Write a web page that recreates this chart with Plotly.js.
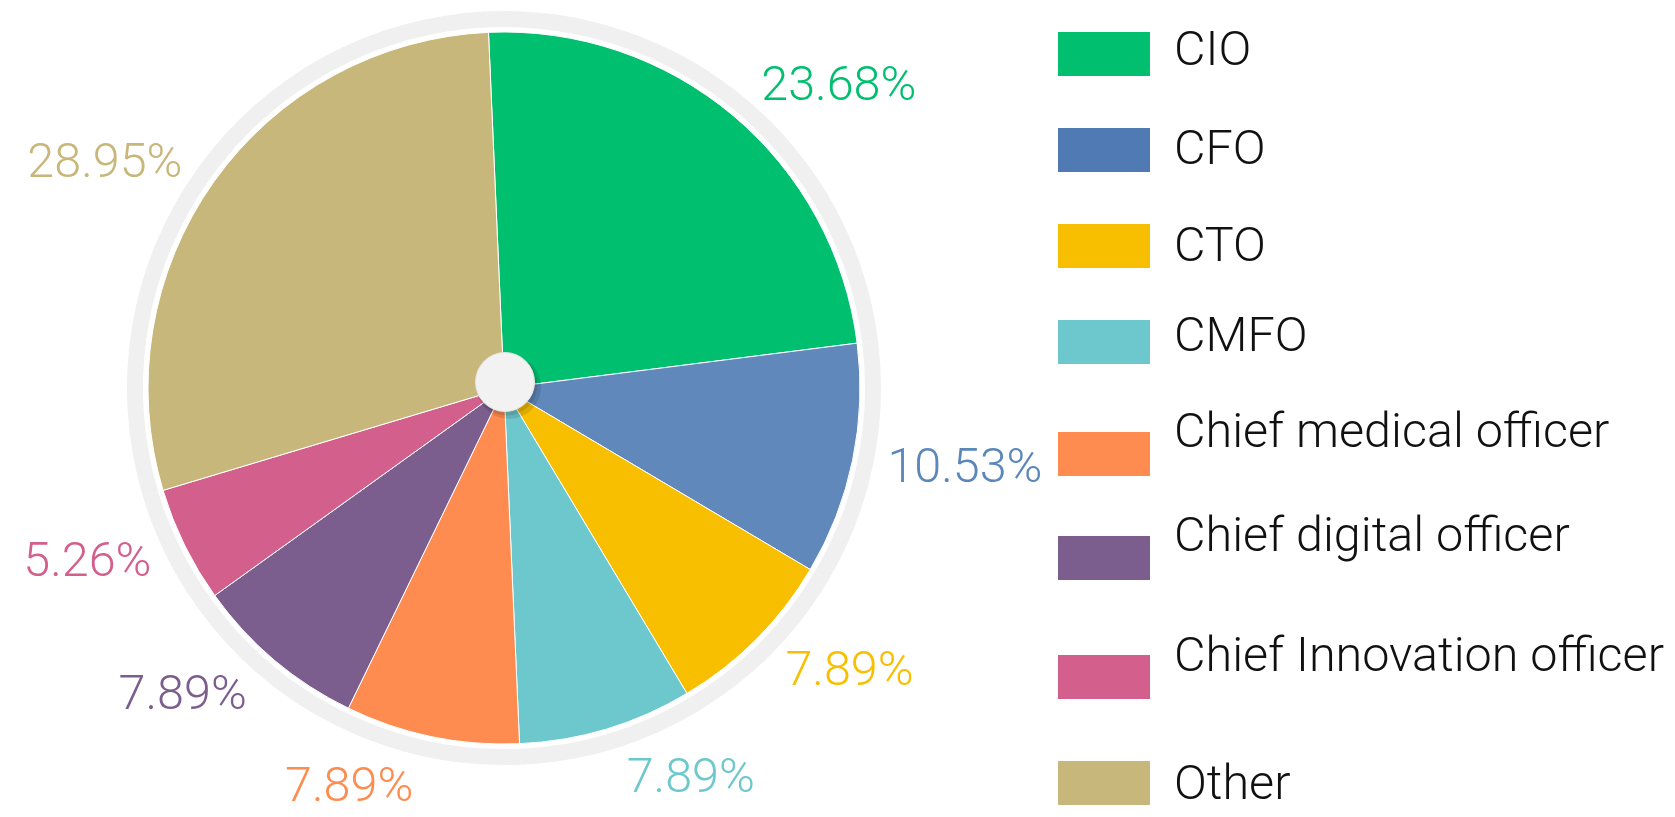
<!DOCTYPE html>
<html>
<head>
<meta charset="utf-8">
<script src="https://cdn.plot.ly/plotly-3.0.1.min.js"></script>
<style>
  html, body { margin: 0; padding: 0; background: #fff; }
  #chart { width: 1675px; height: 817px; }
</style>
</head>
<body>
<div id="chart"></div>
<script>
// Dados do gráfico (respostas por cargo)
var labels = ['CIO', 'CFO', 'CTO', 'CMFO', 'Chief medical officer',
  'Chief digital officer', 'Chief Innovation officer', 'Other'];
var counts = [9, 4, 3, 3, 3, 3, 2, 11];
var sliceColors = ['#00bf6f', '#6088bb', '#f7bf00', '#6cc8cc', '#fe8b4f', '#7c5e8e', '#d35f8c', '#c8b77a'];
var swatchColors = ['#00bf6f', '#4f7ab4', '#f7bf00', '#6cc8cc', '#fe8b4f', '#7c5e8e', '#d35f8c', '#c8b77a'];
var textColors = ['#00bf6f', '#5b87bb', '#f7bf00', '#6cc8cc', '#fe8b4f', '#7c5e8e', '#d35f8c', '#c8b77a'];

// layout (pixels)
var W = 1675, H = 817;
var cx = 504, cy = 388;
var ringR = 377, pieR = 356, ringInner = 361;
var legendRowY = [54, 150, 246, 342, 454, 558, 677, 783];
var legendTextY = [49, 148, 245, 334, 430, 534, 654, 782];
var FONT = 'Roboto, "Open Sans", sans-serif';

function dom(r) {
  return {
    x: [(cx - r) / W, (cx + r) / W],
    y: [(H - cy - r) / H, (H - cy + r) / H]
  };
}

// anel cinza que também leva os rótulos de percentagem
var ring = {
  type: 'pie',
  values: counts,
  labels: labels,
  sort: false,
  direction: 'clockwise',
  rotation: -2.5,
  hole: ringInner / ringR,
  domain: dom(ringR),
  marker: { colors: labels.map(function () { return '#f0f0f0'; }), line: { width: 0 } },
  textposition: 'outside',
  texttemplate: '%{percent:.2%}',
  outsidetextfont: { family: FONT, size: 48.5, color: textColors, weight: 300 },
  hoverinfo: 'skip',
  showlegend: false
};

var pie = {
  type: 'pie',
  values: counts,
  labels: labels,
  sort: false,
  direction: 'clockwise',
  rotation: -2.5,
  domain: dom(pieR),
  marker: { colors: sliceColors, line: { color: '#ffffff', width: 1 } },
  textinfo: 'none',
  showlegend: false
};

var shapes = [];
var annotations = [];

// círculo central com sombra
shapes.push({ type: 'circle', xref: 'paper', yref: 'paper', layer: 'above',
  x0: (509 - 32) / W, x1: (509 + 32) / W, y0: (H - 387 - 32) / H, y1: (H - 387 + 32) / H,
  fillcolor: 'rgba(0,0,0,0.10)', line: { width: 0 } });
shapes.push({ type: 'circle', xref: 'paper', yref: 'paper', layer: 'above',
  x0: (507 - 30.5) / W, x1: (507 + 30.5) / W, y0: (H - 385 - 30.5) / H, y1: (H - 385 + 30.5) / H,
  fillcolor: 'rgba(0,0,0,0.10)', line: { width: 0 } });
shapes.push({ type: 'circle', xref: 'paper', yref: 'paper', layer: 'above',
  x0: (505 - 29.5) / W, x1: (505 + 29.5) / W, y0: (H - 382 - 29.5) / H, y1: (H - 382 + 29.5) / H,
  fillcolor: '#f2f2f2', line: { color: '#e4e4e4', width: 1 } });

// legenda desenhada à mão (quadrados grandes)
labels.forEach(function (lab, i) {
  var y = legendRowY[i];
  shapes.push({ type: 'rect', xref: 'paper', yref: 'paper',
    x0: 1058 / W, x1: 1150 / W, y0: (H - y - 22) / H, y1: (H - y + 22) / H,
    fillcolor: swatchColors[i], line: { width: 0 } });
  annotations.push({ xref: 'paper', yref: 'paper', x: 1172 / W, y: (H - legendTextY[i]) / H,
    xanchor: 'left', yanchor: 'middle', showarrow: false, text: lab,
    font: { family: FONT, size: 48.5, color: '#111111', weight: 300 } });
});

var layout = {
  width: W, height: H,
  margin: { l: 0, r: 0, t: 0, b: 0 },
  paper_bgcolor: '#ffffff',
  plot_bgcolor: '#ffffff',
  showlegend: false,
  shapes: shapes,
  annotations: annotations
};

Plotly.newPlot('chart', [ring, pie], layout, { displayModeBar: false });
</script>
</body>
</html>
